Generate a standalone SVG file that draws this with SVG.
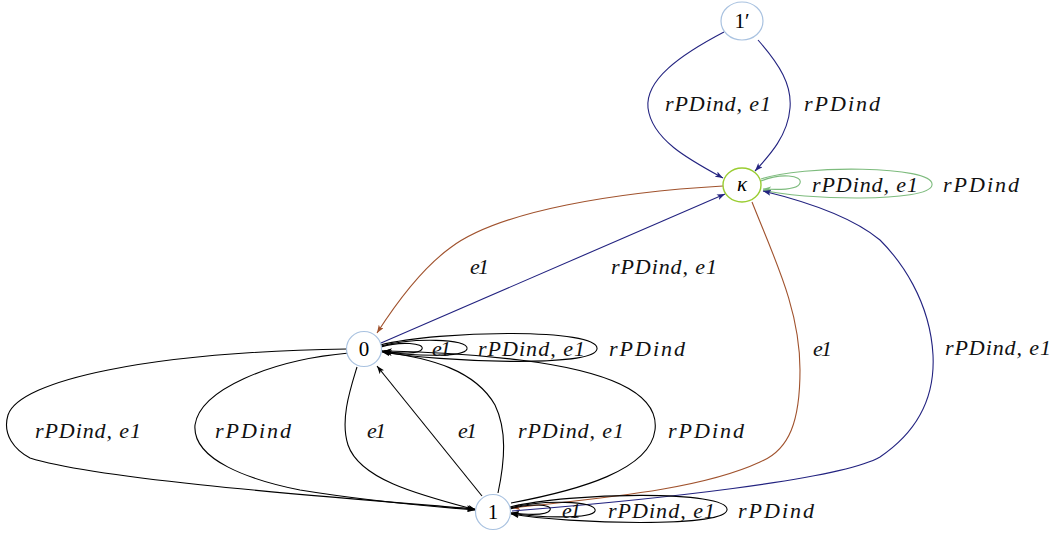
<svg xmlns="http://www.w3.org/2000/svg" width="1062" height="533" viewBox="0 0 1062 533">
<defs>
<style>
.node{fill:#fff;stroke:#a9c2e0;stroke-width:1.2}
.kap{fill:#fff;stroke:#9acd32;stroke-width:1.4}
.nl{font-family:"Liberation Serif",serif;font-size:21px;fill:#000;text-anchor:middle}
.lb{font-family:"Liberation Serif",serif;font-style:italic;font-size:22px;fill:#111}
.e{fill:none;stroke-width:1.1}
.k{stroke:#000}
.n{stroke:#232380}
.b{stroke:#a0522d}
.g{stroke:#7dbb7d}
</style>
<marker id="ak" viewBox="0 0 8 6" refX="8" refY="3" markerWidth="8" markerHeight="6" markerUnits="userSpaceOnUse" orient="auto"><path d="M0,0 L8,3 L0,6 L2,3 z" fill="#000"/></marker>
<marker id="an" viewBox="0 0 8 6" refX="8" refY="3" markerWidth="8" markerHeight="6" markerUnits="userSpaceOnUse" orient="auto"><path d="M0,0 L8,3 L0,6 L2,3 z" fill="#232380"/></marker>
<marker id="ab" viewBox="0 0 8 6" refX="8" refY="3" markerWidth="8" markerHeight="6" markerUnits="userSpaceOnUse" orient="auto"><path d="M0,0 L8,3 L0,6 L2,3 z" fill="#a0522d"/></marker>
<marker id="ag" viewBox="0 0 8 6" refX="8" refY="3" markerWidth="8" markerHeight="6" markerUnits="userSpaceOnUse" orient="auto"><path d="M0,0 L8,3 L0,6 L2,3 z" fill="#7dbb7d"/></marker>
</defs>
<rect width="1062" height="533" fill="#fff"/>
<g id="connectors">
<path class="e n" marker-end="url(#an)" d="M724,32 C 680,55 645,80 648,108 C 652,140 690,160 723,178"/>
<path class="e n" marker-end="url(#an)" d="M758,40 C 780,65 792,85 790,108 C 788,135 770,155 755,171"/>
<path class="e g" marker-end="url(#ag)" d="M761,181 C 780,173 803,175 800,183 C 798,190 780,190 763,189"/>
<path class="e g" marker-end="url(#ag)" d="M761,179 C 800,165 935,165 932,185 C 930,203 800,200 763,190"/>
<path class="e b" marker-end="url(#ab)" d="M723,186 C 620,192 500,210 450,248 C 420,270 395,305 377,333"/>
<path class="e n" marker-end="url(#an)" d="M381,343 L725,194"/>
<path class="e b" marker-end="url(#ab)" d="M752,202 C 775,260 800,310 800,370 C 800,420 790,450 760,462 C 700,490 600,498 512,508"/>
<path class="e n" marker-end="url(#an)" d="M512,511 C 650,500 840,480 880,457 C 920,430 935,395 933,355 C 930,300 900,260 880,240 C 850,215 800,200 763,191"/>
<path class="e k" marker-end="url(#ak)" d="M381,347 C 400,341 425,343 422,349 C 420,354 400,354 382,351"/>
<path class="e k" marker-end="url(#ak)" d="M381,346 C 410,338 470,338 467,349 C 464,358 410,356 382,351"/>
<path class="e k" marker-end="url(#ak)" d="M380,345 C 440,330 600,328 597,349 C 594,368 440,362 382,352"/>
<path class="e k" marker-end="url(#ak)" d="M510,509 C 530,503 553,504 550,510 C 548,515 530,515 511,513"/>
<path class="e k" marker-end="url(#ak)" d="M510,508 C 540,500 598,500 595,511 C 592,519 540,518 511,513"/>
<path class="e k" marker-end="url(#ak)" d="M510,507 C 570,492 730,490 727,510 C 724,528 570,524 511,514"/>
<path class="e k" marker-end="url(#ak)" d="M347,349 C 150,352 20,380 8,415 C 2,435 15,450 30,458 C 100,480 330,497 475,509"/>
<path class="e k" marker-end="url(#ak)" d="M349,353 C 270,360 200,390 195,425 C 192,460 250,480 300,490 C 380,503 430,506 475,510"/>
<path class="e k" marker-end="url(#ak)" d="M357,367 C 350,390 340,420 348,445 C 360,480 420,495 476,510"/>
<path class="e k" marker-end="url(#ak)" d="M482,496 L377,366"/>
<path class="e k" marker-end="url(#ak)" d="M498,493 C 505,460 507,430 495,405 C 475,370 430,358 384,352"/>
<path class="e k" marker-end="url(#ak)" d="M511,503 C 580,490 650,470 655,430 C 660,390 600,370 520,360 C 460,353 420,352 384,351"/>
</g>
<g id="labels">
<text class="lb" x="665" y="111" textLength="106" lengthAdjust="spacing">rPDind, e1</text>
<text class="lb" x="804" y="111" textLength="76" lengthAdjust="spacing">rPDind</text>
<text class="lb" x="812" y="192" textLength="106" lengthAdjust="spacing">rPDind, e1</text>
<text class="lb" x="943" y="192" textLength="76" lengthAdjust="spacing">rPDind</text>
<text class="lb" x="470" y="274" textLength="19" lengthAdjust="spacing">e1</text>
<text class="lb" x="611" y="274" textLength="106" lengthAdjust="spacing">rPDind, e1</text>
<text class="lb" x="432" y="356" textLength="19" lengthAdjust="spacing">e1</text>
<text class="lb" x="478" y="356" textLength="107" lengthAdjust="spacing">rPDind, e1</text>
<text class="lb" x="609" y="356" textLength="76" lengthAdjust="spacing">rPDind</text>
<text class="lb" x="813" y="356" textLength="19" lengthAdjust="spacing">e1</text>
<text class="lb" x="945" y="355" textLength="106" lengthAdjust="spacing">rPDind, e1</text>
<text class="lb" x="35" y="438" textLength="106" lengthAdjust="spacing">rPDind, e1</text>
<text class="lb" x="215" y="438" textLength="76" lengthAdjust="spacing">rPDind</text>
<text class="lb" x="367" y="438" textLength="19" lengthAdjust="spacing">e1</text>
<text class="lb" x="458" y="438" textLength="19" lengthAdjust="spacing">e1</text>
<text class="lb" x="518" y="438" textLength="106" lengthAdjust="spacing">rPDind, e1</text>
<text class="lb" x="668" y="438" textLength="76" lengthAdjust="spacing">rPDind</text>
<text class="lb" x="562" y="518" textLength="19" lengthAdjust="spacing">e1</text>
<text class="lb" x="608" y="518" textLength="107" lengthAdjust="spacing">rPDind, e1</text>
<text class="lb" x="738" y="518" textLength="76" lengthAdjust="spacing">rPDind</text>
</g>
<g id="node-1p"><ellipse class="node" cx="742" cy="21" rx="21" ry="19"/><text class="nl" x="742" y="28">1′</text></g>
<g id="node-kappa"><ellipse class="kap" cx="742" cy="185" rx="19" ry="17"/><text class="nl" x="742" y="191" font-style="italic">κ</text></g>
<g id="node-0"><circle class="node" cx="364" cy="349" r="17.5"/><text class="nl" x="364" y="356">0</text></g>
<g id="node-1"><circle class="node" cx="493" cy="512" r="17.5"/><text class="nl" x="493" y="519">1</text></g>
</svg>
